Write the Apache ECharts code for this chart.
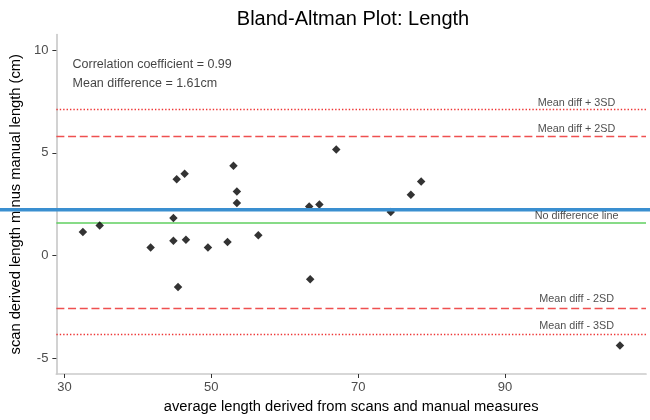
<!DOCTYPE html>
<html>
<head>
<meta charset="utf-8">
<script src="https://cdn.jsdelivr.net/npm/echarts@6/dist/echarts.min.js"></script>
<style>
html,body{margin:0;padding:0;background:#fff;}
#chart{width:650px;height:420px;}
</style>
</head>
<body>
<div id="chart"></div>
<script>
// ---- data ----
const avgLength = [32.51, 34.80, 41.74, 44.84, 46.55, 44.84, 45.29, 46.37, 45.47, 49.54, 52.21, 53.02, 53.48, 53.48, 56.40, 63.33, 64.72, 63.47, 67.02, 74.44, 77.18, 78.58, 105.65];
const diffLength = [1.15, 1.47, 0.40, 0.73, 0.78, 1.83, 3.72, 3.98, -1.52, 0.40, 0.67, 4.37, 3.12, 2.56, 0.99, 2.39, 2.49, -1.15, 5.16, 2.12, 2.96, 3.61, -4.37];

const meanDiff = 1.61;
const plus2SD = 5.79;
const minus2SD = -2.57;
const plus3SD = 7.13;
const minus3SD = -3.83;
const blueLineY = 2.23;

const lineLabels = ['Mean diff + 3SD', 'Mean diff + 2SD', 'No difference line', 'Mean diff - 2SD', 'Mean diff - 3SD'];
const lineLabelY = [7.44, 6.17, 1.94, -2.10, -3.40];
const lineLabelX = 99.75;

const noteTexts = ['Correlation coefficient = 0.99', 'Mean difference = 1.61cm'];
const noteY = [9.31, 8.35];
const noteX = 31.1;

const xTicks = [30, 50, 70, 90];
const yTicks = [-5, 0, 5, 10];
const xRange = [28.9, 109.2];
const yRange = [-5.75, 10.75];

// ---- chart ----
const chart = echarts.init(document.getElementById('chart'), null, {renderer: 'canvas'});
const FONT = '"Liberation Sans", Arial, sans-serif';
const redDash = '#ef5050';
const redDot = '#ee3535';

const option = {
  animation: false,
  backgroundColor: '#ffffff',
  title: {
    text: 'Bland-Altman Plot: Length',
    left: 348,
    textAlign: 'center',
    top: 4,
    textStyle: {fontFamily: FONT, fontSize: 20, fontWeight: 'normal', color: '#000'}
  },
  grid: [
    {left: 51, right: 4, top: 34.5, bottom: 46, containLabel: false},
    {left: 0, right: 0, top: 34.5, bottom: 46, containLabel: false}
  ],
  xAxis: [
    {
      type: 'value', gridIndex: 0, min: xRange[0], max: xRange[1],
      name: 'average length derived from scans and manual measures',
      nameLocation: 'middle', nameGap: 25,
      nameTextStyle: {fontFamily: FONT, fontSize: 14.7, color: '#000'},
      splitLine: {show: false},
      axisLine: {show: true, onZero: false, lineStyle: {color: '#cacaca', width: 1.7}},
      axisTick: {show: true, length: 4, customValues: xTicks, lineStyle: {color: '#333', width: 1}},
      axisLabel: {customValues: xTicks, margin: 7, fontFamily: FONT, fontSize: 13, color: '#4d4d4d'}
    },
    {type: 'value', gridIndex: 1, min: 0, max: 1, show: false}
  ],
  yAxis: [
    {
      type: 'value', gridIndex: 0, min: yRange[0], max: yRange[1],
      name: 'scan derived length minus manual length (cm)',
      nameLocation: 'middle', nameGap: 29, nameRotate: 90,
      nameTextStyle: {fontFamily: FONT, fontSize: 14.7, color: '#000'},
      splitLine: {show: false},
      axisLine: {show: true, onZero: false, lineStyle: {color: '#cacaca', width: 1.7}},
      axisTick: {show: true, length: 4, customValues: yTicks, lineStyle: {color: '#333', width: 1}},
      axisLabel: {customValues: yTicks, margin: 8, fontFamily: FONT, fontSize: 13, color: '#4d4d4d'}
    },
    {type: 'value', gridIndex: 1, min: yRange[0], max: yRange[1], show: false}
  ],
  series: [
    {
      type: 'scatter', xAxisIndex: 0, yAxisIndex: 0, silent: true, z: 2,
      data: [],
      markLine: {
        silent: true, symbol: 'none', animation: false,
        label: {show: false},
        data: [
          {yAxis: plus3SD, lineStyle: {color: redDot, width: 1.3, type: [1.4, 2]}},
          {yAxis: plus2SD, lineStyle: {color: redDash, width: 1.3, type: [8, 3.7]}},
          {yAxis: meanDiff, lineStyle: {color: '#5fcf5f', width: 1.5, type: 'solid'}},
          {yAxis: minus2SD, lineStyle: {color: redDash, width: 1.3, type: [8, 3.7]}},
          {yAxis: minus3SD, lineStyle: {color: redDot, width: 1.3, type: [1.4, 2]}}
        ]
      }
    },
    {
      type: 'scatter', xAxisIndex: 0, yAxisIndex: 0, z: 5, silent: true,
      symbol: 'diamond', symbolSize: 8.5,
      itemStyle: {color: '#000'},
      data: avgLength.map((x, i) => [x, diffLength[i]])
    },
    {
      type: 'line', xAxisIndex: 1, yAxisIndex: 1, z: 10, silent: true,
      symbol: 'none',
      lineStyle: {color: '#3a8fd0', width: 3.5},
      data: [[0, blueLineY], [1, blueLineY]]
    },
    {
      type: 'scatter', xAxisIndex: 0, yAxisIndex: 0, z: 12, silent: true,
      symbolSize: 0,
      label: {show: true, position: 'inside', formatter: p => p.name,
              fontFamily: FONT, fontSize: 10.8, color: '#222'},
      data: lineLabels.map((t, i) => ({name: t, value: [lineLabelX, lineLabelY[i]]}))
    },
    {
      type: 'scatter', xAxisIndex: 0, yAxisIndex: 0, z: 12, silent: true,
      symbolSize: 0,
      label: {show: true, position: 'right', distance: 0, formatter: p => p.name,
              fontFamily: FONT, fontSize: 12.5, color: '#111'},
      data: noteTexts.map((t, i) => ({name: t, value: [noteX, noteY[i]]}))
    }
  ]
};
chart.setOption(option);
</script>
</body>
</html>
